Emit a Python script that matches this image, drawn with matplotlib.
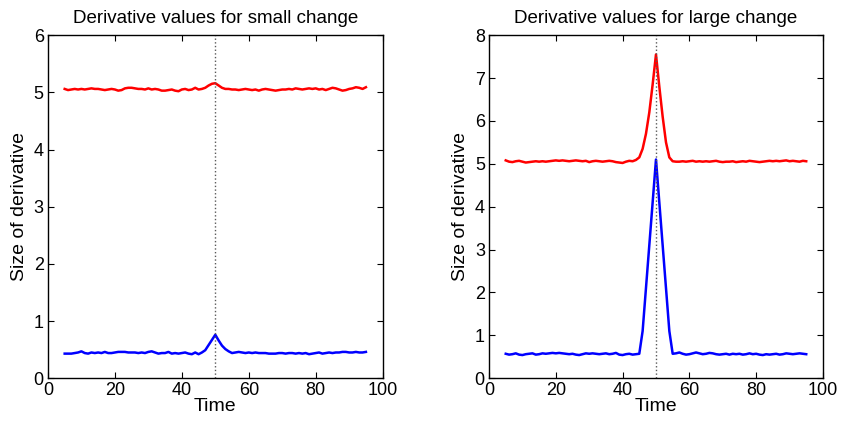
import numpy as np
import matplotlib
matplotlib.use("Agg")
import matplotlib.pyplot as plt

plt.rcParams['font.family'] = ['Liberation Sans', 'DejaVu Sans']

# time axis (samples 5..95)
time = np.arange(5, 96)

# small change: red and blue derivative sizes
small_red = [5.06, 5.04, 5.05, 5.06, 5.05, 5.06, 5.05, 5.06, 5.07, 5.06,
             5.06, 5.05, 5.04, 5.05, 5.06, 5.05, 5.03, 5.04, 5.07, 5.08,
             5.08, 5.07, 5.06, 5.06, 5.05, 5.07, 5.05, 5.06, 5.05, 5.03,
             5.03, 5.04, 5.05, 5.03, 5.02, 5.05, 5.06, 5.04, 5.05, 5.08,
             5.05, 5.06, 5.08, 5.12, 5.15, 5.16, 5.12, 5.08, 5.06, 5.06,
             5.05, 5.05, 5.04, 5.05, 5.06, 5.05, 5.04, 5.05, 5.03, 5.05,
             5.06, 5.05, 5.04, 5.03, 5.04, 5.05, 5.05, 5.06, 5.05, 5.07,
             5.06, 5.05, 5.06, 5.07, 5.06, 5.07, 5.05, 5.06, 5.04, 5.06,
             5.08, 5.07, 5.05, 5.03, 5.04, 5.06, 5.07, 5.09, 5.08, 5.06,
             5.09]
small_blue = [0.43, 0.43, 0.43, 0.44, 0.45, 0.47, 0.44, 0.43, 0.45, 0.44,
              0.45, 0.44, 0.46, 0.44, 0.44, 0.45, 0.46, 0.46, 0.46, 0.45,
              0.45, 0.45, 0.44, 0.45, 0.44, 0.46, 0.47, 0.45, 0.43, 0.44,
              0.44, 0.46, 0.43, 0.44, 0.43, 0.44, 0.45, 0.43, 0.42, 0.45,
              0.42, 0.45, 0.49, 0.58, 0.67, 0.76, 0.66, 0.57, 0.51, 0.47,
              0.44, 0.45, 0.46, 0.45, 0.44, 0.45, 0.44, 0.45, 0.44, 0.44,
              0.44, 0.43, 0.43, 0.43, 0.44, 0.44, 0.43, 0.44, 0.44, 0.43,
              0.44, 0.43, 0.44, 0.42, 0.43, 0.44, 0.45, 0.43, 0.44, 0.45,
              0.44, 0.45, 0.45, 0.46, 0.46, 0.45, 0.45, 0.46, 0.45, 0.45,
              0.46]

# large change
large_red = [5.08, 5.05, 5.04, 5.06, 5.07, 5.05, 5.03, 5.04, 5.05, 5.06,
             5.05, 5.06, 5.05, 5.06, 5.07, 5.08, 5.07, 5.08, 5.07, 5.06,
             5.07, 5.08, 5.07, 5.06, 5.07, 5.04, 5.06, 5.07, 5.06, 5.05,
             5.06, 5.07, 5.06, 5.04, 5.03, 5.02, 5.05, 5.07, 5.06, 5.09,
             5.15, 5.35, 5.70, 6.20, 6.85, 7.55, 6.80, 6.10, 5.50, 5.15,
             5.06, 5.05, 5.05, 5.06, 5.05, 5.06, 5.07, 5.05, 5.06, 5.05,
             5.06, 5.05, 5.06, 5.07, 5.05, 5.04, 5.05, 5.05, 5.06, 5.04,
             5.05, 5.06, 5.05, 5.07, 5.06, 5.05, 5.04, 5.05, 5.06, 5.07,
             5.06, 5.07, 5.06, 5.07, 5.08, 5.06, 5.07, 5.06, 5.05, 5.07,
             5.06]
large_blue = [0.57, 0.55, 0.56, 0.58, 0.55, 0.54, 0.56, 0.57, 0.58, 0.55,
              0.56, 0.58, 0.57, 0.58, 0.59, 0.58, 0.59, 0.58, 0.57, 0.56,
              0.57, 0.55, 0.54, 0.56, 0.58, 0.57, 0.58, 0.57, 0.56, 0.57,
              0.58, 0.56, 0.57, 0.59, 0.55, 0.54, 0.56, 0.57, 0.55, 0.56,
              0.57, 1.10, 2.10, 3.10, 4.10, 5.10, 4.10, 3.10, 2.10, 1.10,
              0.57, 0.58, 0.60, 0.57, 0.55, 0.56, 0.58, 0.60, 0.58, 0.56,
              0.57, 0.59, 0.58, 0.56, 0.55, 0.56, 0.57, 0.55, 0.57, 0.56,
              0.57, 0.55, 0.56, 0.58, 0.56, 0.57, 0.55, 0.54, 0.56, 0.55,
              0.56, 0.57, 0.55, 0.56, 0.58, 0.57, 0.56, 0.57, 0.58, 0.57,
              0.56]

change_time = 50


def panel(ax, red, blue, ymax, titulo):
    ax.plot(time, red, color='red', lw=1.8)
    ax.plot(time, blue, color='blue', lw=1.8)
    ax.axvline(change_time, color='0.35', ls=':', lw=1.0)
    ax.set_xlim(0, 100)
    ax.set_ylim(0, ymax)
    ax.set_xticks(range(0, 101, 20))
    ax.set_yticks(range(0, ymax + 1))
    ax.tick_params(direction='in', top=True, right=True, labelsize=13, length=4, pad=3)
    ax.set_xlabel('Time', fontsize=14, labelpad=-1)
    ax.set_ylabel('Size of derivative', fontsize=14, labelpad=4)
    ax.set_title(titulo, fontsize=13.5, pad=9)
    for s in ax.spines.values():
        s.set_linewidth(1.0)


fig = plt.figure(figsize=(8.41, 4.24), dpi=100)
ax1 = fig.add_axes([0.057, 0.108, 0.398, 0.809])
ax2 = fig.add_axes([0.5815, 0.108, 0.397, 0.809])

panel(ax1, small_red, small_blue, 6, 'Derivative values for small change')
panel(ax2, large_red, large_blue, 8, 'Derivative values for large change')

fig.savefig('out.png', dpi=100)
